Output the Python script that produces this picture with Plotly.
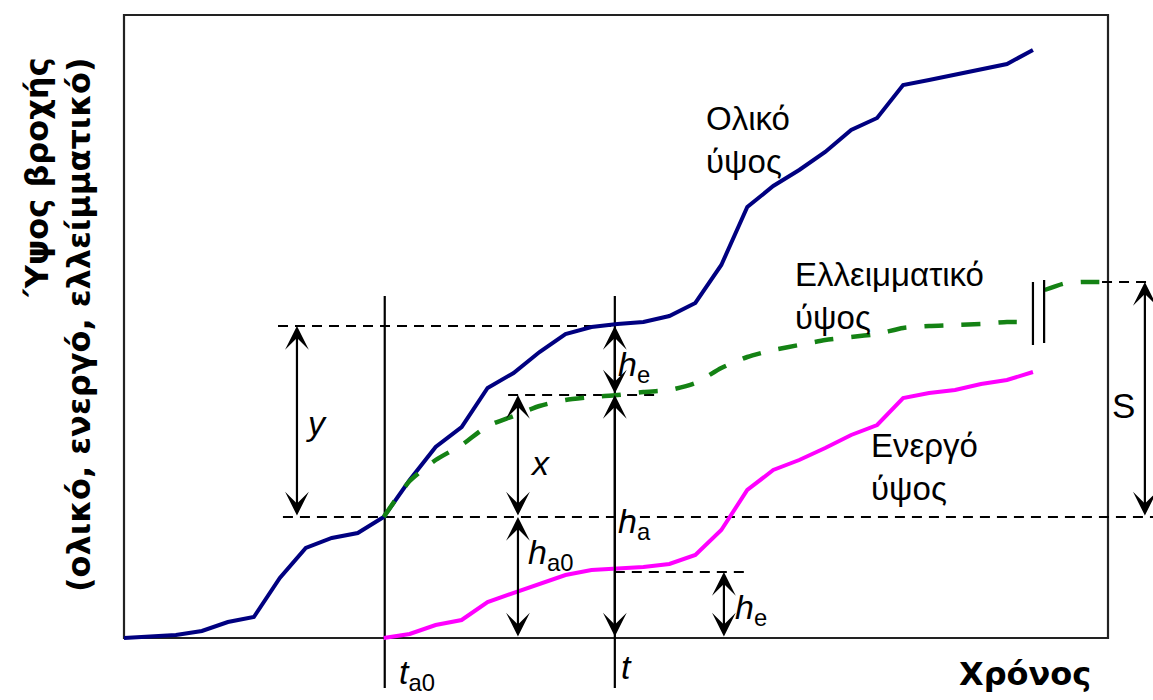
import plotly.graph_objects as go

# ---------------- data (time steps, cumulative rainfall depth) ----------------
t_total = list(range(0, 36))
h_total = [0.0, 0.2, 0.6, 1.4, 3.2, 4.2, 12.0, 18.0, 20.0, 21.0, 24.2, 31.6, 38.2,
           42.2, 50.0, 53.0, 57.2, 60.8, 62.2, 62.8, 63.2, 64.4, 67.0, 74.6, 86.2,
           90.4, 93.6, 97.2, 101.6, 104.0, 110.6, 111.6, 112.6, 113.8, 114.8, 117.6]

t_deficit = list(range(10, 35)) + [34.55]
h_deficit = [24.2, 31.4, 35.6, 38.6, 42.4, 44.4, 46.4, 47.6, 48.2, 48.6, 49.2, 49.6,
             51.0, 54.0, 56.2, 57.6, 58.6, 59.6, 60.2, 60.8, 62.0, 62.4, 62.6, 62.8,
             63.2, 63.2]
t_deficit_end = [35.45, 36.2, 36.9, 37.66]
h_deficit_end = [69.6, 70.9, 71.2, 71.2]

t_active = list(range(10, 36))
h_active = [0.0, 0.8, 2.6, 3.6, 7.2, 9.0, 11.0, 12.6, 13.6, 13.8, 14.2, 14.8, 16.6,
            21.6, 29.6, 33.6, 35.6, 38.0, 40.6, 42.6, 48.0, 49.0, 49.6, 50.8, 51.6, 53.2]

# key instants and levels
T_A0 = 10.04
T_NOW = 18.9
H_TOP = 62.4      # total depth at t
H_DEF = 48.6      # deficit depth at t
H_A0 = 24.2       # depth at t_a0
H_E_ACT = 13.2    # active depth at t
S_LEVEL = 71.2    # ultimate deficit S
T_END = 37.89     # right edge of frame
H_MAX = 124.6     # top of frame

# ---------------- layout scale (pixels) ----------------
W, H = 1153, 700
X0, DX = 124, 25.97
Y0, DY = 638, 5.0
x_range = [-X0 / DX, (W - X0) / DX]
y_range = [-(H - Y0) / DY, Y0 / DY]
X_EDGE = x_range[1]

NAVY = "#000080"
GREEN = "#148214"
MAGENTA = "#ff00ff"
LABEL_FONT = "Liberation Sans, Arial, sans-serif"
BOLD_FONT = "DejaVu Sans, Verdana, sans-serif"

fig = go.Figure()
fig.add_trace(go.Scatter(x=t_total, y=h_total, mode="lines",
                         line=dict(color=NAVY, width=4), hoverinfo="skip"))
fig.add_trace(go.Scatter(x=t_active, y=h_active, mode="lines",
                         line=dict(color=MAGENTA, width=4), hoverinfo="skip"))
fig.add_trace(go.Scatter(x=t_deficit, y=h_deficit, mode="lines",
                         line=dict(color=GREEN, width=4.5, dash="19px,18px",
                                   shape="spline", smoothing=0.6), hoverinfo="skip"))
fig.add_trace(go.Scatter(x=t_deficit_end, y=h_deficit_end, mode="lines",
                         line=dict(color=GREEN, width=4.5, dash="19px,18px",
                                   shape="spline", smoothing=0.6), hoverinfo="skip"))

shapes = []
# frame
shapes.append(dict(type="rect", x0=0, x1=T_END, y0=0, y1=H_MAX,
                   line=dict(color="#222222", width=2.2), layer="below"))
# vertical time markers
for tv in (T_A0, T_NOW):
    shapes.append(dict(type="line", x0=tv, x1=tv, y0=-10, y1=68.4,
                       line=dict(color="black", width=2.2), layer="below"))
dash_line = dict(color="black", width=2.2, dash="10px,7px")
shapes += [
    dict(type="line", x0=5.93, x1=T_NOW, y0=H_TOP, y1=H_TOP, line=dash_line, layer="below"),
    dict(type="line", x0=14.79, x1=20.45, y0=H_DEF, y1=H_DEF, line=dash_line, layer="below"),
    dict(type="line", x0=6.12, x1=X_EDGE, y0=H_A0, y1=H_A0, line=dash_line, layer="below"),
    dict(type="line", x0=T_NOW, x1=24.03, y0=H_E_ACT, y1=H_E_ACT, line=dash_line, layer="below"),
    dict(type="line", x0=t_deficit_end[-1], x1=X_EDGE, y0=S_LEVEL, y1=S_LEVEL, line=dash_line, layer="below"),
    # break marks on the deficit curve
    dict(type="line", x0=35.0, x1=35.0, y0=58.6, y1=71.2, line=dict(color="black", width=2.2)),
    dict(type="line", x0=35.43, x1=35.43, y0=59.0, y1=71.6, line=dict(color="black", width=2.2)),
]

annotations = []


def dbl_arrow(tx, h1, h2):
    annotations.append(dict(x=tx, y=h2, ax=tx, ay=h1, xref="x", yref="y",
                            axref="x", ayref="y", text="", showarrow=True,
                            arrowside="end+start", arrowhead=3, startarrowhead=3,
                            arrowsize=1.8, startarrowsize=1.8, arrowwidth=2.2,
                            arrowcolor="black", standoff=0, startstandoff=0))


dbl_arrow(6.66, H_A0, H_TOP)        # y
dbl_arrow(15.17, H_A0, H_DEF)       # x
dbl_arrow(15.17, 0, H_A0)           # h_a0
dbl_arrow(T_NOW, H_DEF, H_TOP)      # h_e
dbl_arrow(T_NOW, 0, H_DEF)          # h_a
dbl_arrow(23.10, 0, H_E_ACT)        # h_e (active)
dbl_arrow(39.31, H_A0, S_LEVEL)     # S


def label(tx, hy, text, size=33, family=LABEL_FONT, **kw):
    d = dict(x=tx, y=hy, xref="x", yref="y", text=text, showarrow=False,
             xanchor="left", yanchor="top", align="left",
             font=dict(family=family, size=size, color="black"))
    d.update(kw)
    annotations.append(d)


label(22.33, 108.0, "Ολικό<br>ύψος")
label(25.76, 76.8, "Ελλειμματικό<br>ύψος")
label(28.69, 42.6, "Ενεργό<br>ύψος")

label(6.95, 47.2, "<i>y</i>", size=34)
label(15.56, 39.2, "<i>x</i>", size=34)
label(18.94, 59.0, "<i>h</i><sub>e</sub>", size=34)
label(18.94, 27.6, "<i>h</i><sub>a</sub>", size=34)
label(15.48, 21.4, "<i>h</i><sub>a0</sub>", size=34)
label(23.45, 10.4, "<i>h</i><sub>e</sub>", size=34)
label(10.51, -2.6, "<i>t</i><sub>a0</sub>", size=34)
label(19.06, -1.6, "<i>t</i>", size=34)
label(37.95, 50.8, "S", size=35)

# axis titles
annotations.append(dict(x=34.69, y=-3.0, xref="x", yref="y", text="<b>Χρόνος</b>",
                        showarrow=False, xanchor="center", yanchor="top",
                        font=dict(family=BOLD_FONT, size=32, color="black")))
annotations.append(dict(x=-2.54, y=62.6, xref="x", yref="y",
                        text="<b>Ύψος βροχής<br>(ολικό, ενεργό, ελλείμματικό)</b>",
                        showarrow=False, textangle=-90, align="right",
                        xanchor="center", yanchor="middle",
                        font=dict(family=BOLD_FONT, size=32, color="black")))

fig.update_layout(
    width=W, height=H, margin=dict(l=0, r=0, t=0, b=0),
    paper_bgcolor="white", plot_bgcolor="white", showlegend=False,
    xaxis=dict(range=x_range, visible=False, fixedrange=True),
    yaxis=dict(range=y_range, visible=False, fixedrange=True),
    shapes=shapes, annotations=annotations, hovermode=False,
)

fig.write_html("out.html", config={"displayModeBar": False},
               post_script="document.body.style.margin='0';document.body.style.overflow='hidden';")
